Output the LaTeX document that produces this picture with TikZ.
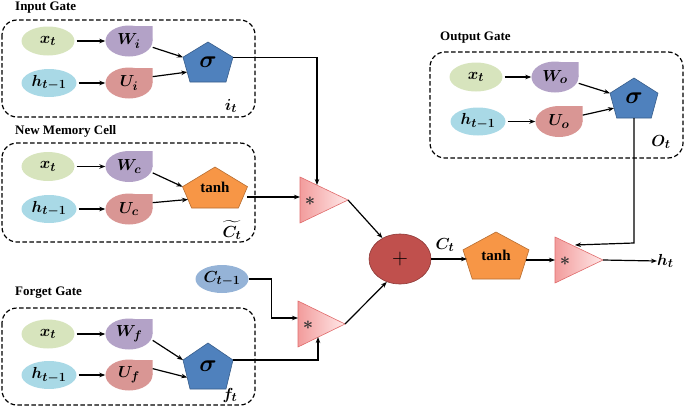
\RequirePackage{fix-cm}
\documentclass[tikz,border=0pt]{standalone}
\usepackage{amsmath,bm}
\usepackage{fontspec}
\setmainfont{Liberation Serif}
\DeclareMathSizes{16}{16}{12.5}{10}
\usetikzlibrary{arrows.meta,shapes.geometric,calc}
\definecolor{xgreen}{HTML}{D7E4BD}
\definecolor{hblue}{HTML}{A9D9E6}
\definecolor{wpurple}{HTML}{B3A2C7}
\definecolor{upink}{HTML}{D99694}
\definecolor{sigblue}{HTML}{4F81BD}
\definecolor{sigborder}{HTML}{385D8A}
\definecolor{tanhor}{HTML}{F79646}
\definecolor{tanhborder}{HTML}{B66D31}
\definecolor{plusred}{HTML}{C0504D}
\definecolor{plusborder}{HTML}{8C3836}
\definecolor{cprevblue}{HTML}{95B3D7}
\definecolor{multL}{HTML}{F29C9C}
\definecolor{multR}{HTML}{FFE8E8}
\definecolor{multB}{HTML}{E06C6C}
\tikzset{
 arr/.style={-{Stealth[length=6pt,width=4.5pt]}, line width=1.2pt},
 gatebox/.style={draw, line width=1.2pt, dash pattern=on 4.5pt off 2.5pt, rounded corners=15pt},
 gtitle/.style={anchor=west, inner sep=0, font=\bfseries\fontsize{13}{15}\selectfont},
 mlbl/.style={font=\fontsize{16}{18}\selectfont},
 xin/.style={ellipse, fill=xgreen, minimum width=53pt, minimum height=29pt, inner sep=0, mlbl},
 hin/.style={ellipse, fill=hblue, minimum width=55pt, minimum height=28pt, inner sep=0, mlbl},
 tear/.style={minimum width=47pt, minimum height=31pt, inner sep=0, mlbl,
   path picture={\fill[#1] (path picture bounding box.center) ellipse [x radius=23.5pt, y radius=15.5pt];
                 \fill[#1] (path picture bounding box.center) rectangle (path picture bounding box.north east);}},
 sigsty/.style={fill=sigblue, draw=sigborder, line width=0.6pt},
 tanhsty/.style={fill=tanhor, draw=tanhborder, line width=0.6pt},
 multsty/.style={left color=multL, right color=multR, draw=multB, line width=0.6pt},
 sigtxt/.style={font=\fontsize{24}{26}\selectfont},
 tanhtxt/.style={font=\bfseries\fontsize{15}{17}\selectfont},
 lbl/.style={font=\fontsize{16}{18}\selectfont, inner sep=0},
}
% name, cx, cy, w, h, sidefrac, style, text
\newcommand\pent[8]{%
 \path[#7] (#2,#3-#5/2) -- (#2+#4/2,#3-#5/2+#6*#5) -- (#2+0.36*#4,#3+#5/2) -- (#2-0.36*#4,#3+#5/2) -- (#2-#4/2,#3-#5/2+#6*#5) -- cycle;
 \node[inner sep=0, minimum width=#4pt, minimum height=#5pt] (#1) at (#2,#3) {#8};
 \coordinate (#1-r) at (#2+#4/2,#3-#5/2+#6*#5);
 \coordinate (#1-l) at (#2-#4/2,#3-#5/2+#6*#5);
 \coordinate (#1-bl) at (#2-0.36*#4,#3+#5/2);
 \coordinate (#1-br) at (#2+0.36*#4,#3+#5/2);
}
% name, leftx, topy, boty, tipx
\newcommand\multtri[5]{%
 \path[multsty] (#2,#3) -- (#5,{(#3+#4)/2}) -- (#2,#4) -- cycle;
 \node[inner sep=0, font=\fontsize{18}{18}\selectfont, text=black!80] (#1) at (#2+10,{(#3+#4)/2+1}) {$\bm{\ast}$};
 \coordinate (#1-tip) at (#5,{(#3+#4)/2});
}
\begin{document}
\begin{tikzpicture}[x=1pt,y=-1pt]
\useasboundingbox (0,0) rectangle (685,407);

% ---------- Input gate ----------
\draw[gatebox] (2,20) rectangle (255,117);
\node[gtitle] (tin) at (15,8) {Input Gate};
\node[xin] (xi) at (48,41) {$\bm{x_t}$};
\node[hin] (hi) at (49,83) {$\bm{h_{t-1}}$};
\node[tear=wpurple] (Wi) at (129,41) {$\bm{W_i}$};
\node[tear=upink] (Ui) at (129,83) {$\bm{U_i}$};
\pent{sgi}{208}{62}{50}{40}{0.38}{sigsty}{};
\node[sigtxt] at (sgi) {$\bm{\sigma}$};
\node[lbl] (li) at (231,106) {$\bm{i_t}$};
\draw[arr, shorten <=2pt] (xi) -- (Wi);
\draw[arr, shorten <=2pt] (hi) -- (Ui);
\draw[arr] (Wi.-15) -- (sgi-l);
\draw[arr] (Ui.15) -- ($(sgi-l)!0.6!(sgi-bl)$);

% ---------- New memory cell ----------
\draw[gatebox] (2,143) rectangle (255,242);
\node[gtitle] (tnm) at (15,131) {New Memory Cell};
\node[xin] (xc) at (48,166.5) {$\bm{x_t}$};
\node[hin] (hc) at (49,209) {$\bm{h_{t-1}}$};
\node[tear=wpurple] (Wc) at (129,166.5) {$\bm{W_c}$};
\node[tear=upink] (Uc) at (129,209) {$\bm{U_c}$};
\pent{tha}{215}{187.5}{65}{41}{0.48}{tanhsty}{};
\node[tanhtxt] at (tha) {tanh};
\node[lbl] (lc) at (232,230) {$\bm{\widetilde{C_t}}$};
\draw[arr, shorten <=2pt] (xc) -- (Wc);
\draw[arr, shorten <=2pt] (hc) -- (Uc);
\draw[arr] (Wc.-15) -- (tha-l);
\draw[arr] (Uc.15) -- ($(tha-l)!0.6!(tha-bl)$);

% ---------- Forget gate ----------
\draw[gatebox] (2,308) rectangle (255,405);
\node[gtitle] (tfg) at (15,293) {Forget Gate};
\node[xin] (xf) at (48,334) {$\bm{x_t}$};
\node[hin] (hf) at (49,375) {$\bm{h_{t-1}}$};
\node[tear=wpurple] (Wf) at (129,334) {$\bm{W_f}$};
\node[tear=upink] (Uf) at (129,375) {$\bm{U_f}$};
\pent{sgf}{208}{366}{50}{46}{0.37}{sigsty}{};
\node[sigtxt] at (sgf) {$\bm{\sigma}$};
\node[lbl] (lf) at (230,395) {$\bm{f_t}$};
\draw[arr, shorten <=2pt] (xf) -- (Wf);
\draw[arr, shorten <=2pt] (hf) -- (Uf);
\draw[arr] (Wf.-15) -- (sgf-l);
\draw[arr] (Uf.15) -- ($(sgf-l)!0.6!(sgf-bl)$);

% ---------- Output gate ----------
\draw[gatebox] (430,52) rectangle (683,158);
\node[gtitle] (tog) at (440,38) {Output Gate};
\node[xin] (xo) at (476,77) {$\bm{x_t}$};
\node[hin] (ho) at (478,121.5) {$\bm{h_{t-1}}$};
\node[tear=wpurple] (Wo) at (555,77) {$\bm{W_o}$};
\node[tear=upink] (Uo) at (559,121.5) {$\bm{U_o}$};
\pent{sgo}{634}{98}{48}{40}{0.38}{sigsty}{};
\node[sigtxt] at (sgo) {$\bm{\sigma}$};
\node[lbl] (lo) at (661,142) {$\bm{O_t}$};
\draw[arr, shorten <=2pt] (xo) -- (Wo);
\draw[arr, shorten <=2pt] (ho) -- (Uo);
\draw[arr] (Wo.-15) -- (sgo-l);
\draw[arr] (Uo.15) -- ($(sgo-l)!0.6!(sgo-bl)$);

% ---------- Cell state path ----------
\node[ellipse, fill=cprevblue, minimum width=53pt, minimum height=28pt, inner sep=0, mlbl] (cp) at (222,279) {$\bm{C_{t-1}}$};
\multtri{ma}{300}{177}{223}{348}
\multtri{mb}{298}{301}{347}{345}
\multtri{mc}{555}{237}{283}{603}
\node[ellipse, fill=plusred, draw=plusborder, line width=0.6pt, minimum width=62pt, minimum height=50pt, inner sep=0, font=\fontsize{22}{22}\selectfont] (pl) at (400,259) {$+$};
\pent{thb}{496}{255.5}{66}{47}{0.38}{tanhsty}{};
\node[tanhtxt] at (thb) {tanh};
\node[lbl] (lct) at (445,245) {$\bm{C_t}$};
\node[lbl, anchor=west] (lht) at (657,261) {$\bm{h_t}$};

\coordinate (matop) at (317,185);
\coordinate (maleft) at (300,197);
\coordinate (thaout) at (247,197);
\coordinate (mbbot) at (318,337);
\coordinate (mbleft) at (298,318);
\coordinate (mctop) at (575,245);
\coordinate (mcleft) at (555,260);
\coordinate (thbin) at (467,259);
\coordinate (thbout) at (526,260);

\draw[arr] (sgi-r) -| (matop);
\draw[arr] (thaout) -- (maleft);
\draw[arr] (cp.east) -- ++(23,0) |- (mbleft);
\draw[arr] (sgf-r) -| (mbbot);
\draw[arr] (ma-tip) -- (pl.130);
\draw[arr] (mb-tip) -- (pl.240);
\draw[arr] (pl.east) -- (thbin);
\draw[arr] (thbout) -- (mcleft);
\draw[arr] (sgo) ++(0,20) -- ++(0,125) -- (mctop);
\draw[arr] (mc-tip) -- (lht.west);
\end{tikzpicture}
\end{document}
